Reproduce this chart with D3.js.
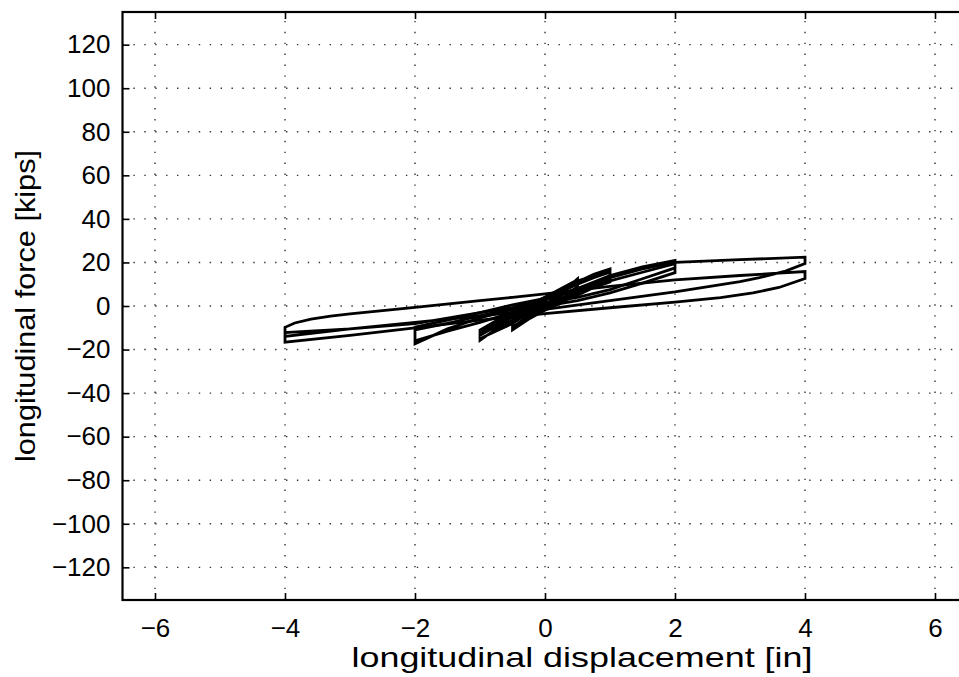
<!DOCTYPE html>
<html><head><meta charset="utf-8">
<script src="https://cdn.jsdelivr.net/npm/d3@7"></script>
<style>body{margin:0;background:#fff} svg{display:block}</style>
</head><body><svg id="c" width="959" height="677"></svg>
<script>
// ---- data ----
const xTicks = [-6, -4, -2, 0, 2, 4, 6];
const yTicks = [-120, -100, -80, -60, -40, -20, 0, 20, 40, 60, 80, 100, 120];
const xLabel = "longitudinal displacement [in]";
const yLabel = "longitudinal force [kips]";

// ±0.25 in cycles
const disp025  = [0, 0.25, 0.25, 0, -0.25, -0.25, 0, 0.25, 0.25, -0.25, -0.25, 0];
const force025 = [0, 7, 4.5, 0.5, -5, -2, 3, 7.5, 4.5, -5.5, -2.5, 1.5];
// ±0.5 in cycles
const disp05  = [0, 0.25, 0.5, 0.5, 0.25, 0, -0.25, -0.5, -0.5, -0.25, 0, 0.25, 0.5, 0.5, 0.25, 0, -0.25, -0.5, -0.5, -0.25, 0, 0.25, 0.5, 0.5, 0.25, 0, -0.25, -0.5, -0.5, -0.25, 0];
const force05 = [0, 6, 12.5, 9, 2.5, -0.5, -4, -10, -6.5, 0, 4, 8, 12, 8.5, 3, -1, -5, -9.5, -6, 0.5, 3, 6.5, 11, 7.5, 1.5, -2, -6, -11, -7.5, -1, 2];
// ±1 in cycles
const disp1  = [0, 0.25, 0.5, 0.75, 1, 1, 0.75, 0.5, 0.25, 0, -0.25, -0.5, -0.75, -1, -1, -0.75, -0.5, -0.25, 0, 0.25, 0.5, 0.75, 1, 1, 0.75, 0.5, 0.25, 0, -0.25, -0.5, -0.75, -1, -1, -0.75, -0.5, -0.25, 0, 0.25, 0.5, 0.75, 1, 1, 0.75, 0.5, 0.25, 0, -0.5, -1, -1, -0.5, 0];
const force1 = [2.5, 6, 11, 14.5, 17, 13, 10.5, 6.5, 3.5, 1, -1.5, -6.5, -10.5, -15.8, -12, -7.5, -3, 0.5, 4, 7.5, 11.5, 14, 16, 11.5, 9.5, 6, 3, 0, -3, -8, -11.5, -15, -12.5, -8.5, -4, 0, 3, 6.5, 10, 13, 15.5, 11, 8.5, 5, 2, -1, -5, -13.5, -11, -2.5, 2.5];
// ±2 in cycles
const disp2  = [0, 0.5, 1, 1.5, 2, 2, 1.5, 1, 0.5, 0, -0.5, -1, -1.5, -2, -2, -1.5, -1, -0.5, 0, 0.5, 1, 1.5, 2, 2, 1.5, 1, 0.5, 0, -0.5, -1, -1.5, -2, -2, -1.5, -1, -0.5, 0];
const force2 = [3, 8, 14, 18, 20.9, 17.5, 12.5, 7.5, 4, 1.5, -1.5, -5.5, -10.5, -17.4, -11, -8, -4.5, -1, 3, 7, 11.5, 15.5, 19.5, 15.3, 10.5, 6, 2.5, 0, -3, -7.5, -11.5, -16, -9.7, -6.5, -3, 0.5, 3.5];
// ±4 in cycles
const disp4  = [0, 0.5, 1, 1.5, 2, 3, 4, 4, 3.7, 3.3, 3, 2, 1, 0, -1, -2, -3, -4, -4, -3.85, -3.6, -3.3, -3, -2, -1, -0.5, 0, 1, 2, 3, 4, 4, 3.6, 3.2, 2.7, 2, 1, 0, -1, -2, -3, -4, -4, -3, -2, -1, 0];
const force4 = [3.5, 8, 13, 17, 20, 21.3, 22.4, 19.5, 16, 13, 11.2, 6.5, 2.5, -1.5, -4.5, -7.5, -10.5, -14, -9.8, -7.8, -6, -4.6, -3.6, -0.6, 2.5, 4, 5.6, 9, 12, 14, 15.8, 12.6, 8.5, 6, 3.8, 1.8, -0.8, -3.5, -6.5, -10, -13.5, -16.6, -12.2, -10.5, -8.1, -3, 1.5];

const loops = [[disp025, force025], [disp05, force05], [disp1, force1], [disp2, force2], [disp4, force4]];

// ---- layout ----
const svg = d3.select("#c");
const L = 122.5, R = 967.5, T = 12, B = 600;
const x = d3.scaleLinear().domain([-6.5, 6.5]).range([L, R]);
const y = d3.scaleLinear().domain([-135, 135]).range([B, T]);
const FONT = "'Liberation Sans', Arial, Helvetica, sans-serif";

svg.append("defs").append("clipPath").attr("id", "clip")
  .append("rect").attr("x", L).attr("y", T).attr("width", R - L).attr("height", B - T);

// grid
const grid = svg.append("g").attr("stroke", "#333").attr("stroke-width", 1.4)
  .attr("stroke-dasharray", "1.4,9.5").attr("fill", "none");
grid.selectAll("line.gx").data(xTicks).join("line").attr("class", "gx")
  .attr("x1", d => x(d)).attr("x2", d => x(d)).attr("y1", B).attr("y2", T);
grid.selectAll("line.gy").data(yTicks).join("line").attr("class", "gy")
  .attr("y1", d => y(d)).attr("y2", d => y(d)).attr("x1", L).attr("x2", R);

// data loops
const line = d3.line().x(d => x(d[0])).y(d => y(d[1])).curve(d3.curveLinear);
svg.append("g").attr("clip-path", "url(#clip)")
  .selectAll("path").data(loops).join("path")
  .attr("d", ([dx, fy]) => line(dx.map((v, i) => [v, fy[i]])))
  .attr("fill", "none").attr("stroke", "#000").attr("stroke-width", 2.8)
  .attr("stroke-linejoin", "miter").attr("stroke-miterlimit", 3);

// axes
const fmt = d3.format("");
const ax = svg.append("g").attr("transform", `translate(0,${B})`)
  .call(d3.axisBottom(x).tickValues(xTicks).tickSize(-7).tickSizeOuter(0).tickPadding(19).tickFormat(fmt));
const ay = svg.append("g").attr("transform", `translate(${L},0)`)
  .call(d3.axisLeft(y).tickValues(yTicks).tickSize(-7).tickSizeOuter(0).tickPadding(12).tickFormat(fmt));
const axt = svg.append("g").attr("transform", `translate(0,${T})`)
  .call(d3.axisTop(x).tickValues(xTicks).tickSize(-7).tickSizeOuter(0).tickFormat(""));
const ayr = svg.append("g").attr("transform", `translate(${R},0)`)
  .call(d3.axisRight(y).tickValues(yTicks).tickSize(-7).tickSizeOuter(0).tickFormat(""));
[ax, ay, axt, ayr].forEach(g => {
  g.select(".domain").remove();
  g.selectAll(".tick line").attr("stroke", "#000").attr("stroke-width", 1.6);
  g.selectAll(".tick text").attr("font-family", FONT).attr("font-size", 26).attr("fill", "#000");
});

// frame
svg.append("rect").attr("x", L).attr("y", T).attr("width", R - L).attr("height", B - T)
  .attr("fill", "none").attr("stroke", "#000").attr("stroke-width", 2.2);

// labels
svg.append("text").attr("x", 582).attr("y", 667).attr("text-anchor", "middle")
  .attr("font-family", FONT).attr("font-size", 28).attr("textLength", 461).attr("lengthAdjust", "spacingAndGlyphs")
  .text(xLabel);
svg.append("text").attr("transform", "translate(35,306) rotate(-90)").attr("text-anchor", "middle")
  .attr("font-family", FONT).attr("font-size", 28).attr("textLength", 312).attr("lengthAdjust", "spacingAndGlyphs")
  .text(yLabel);
</script></body></html>
